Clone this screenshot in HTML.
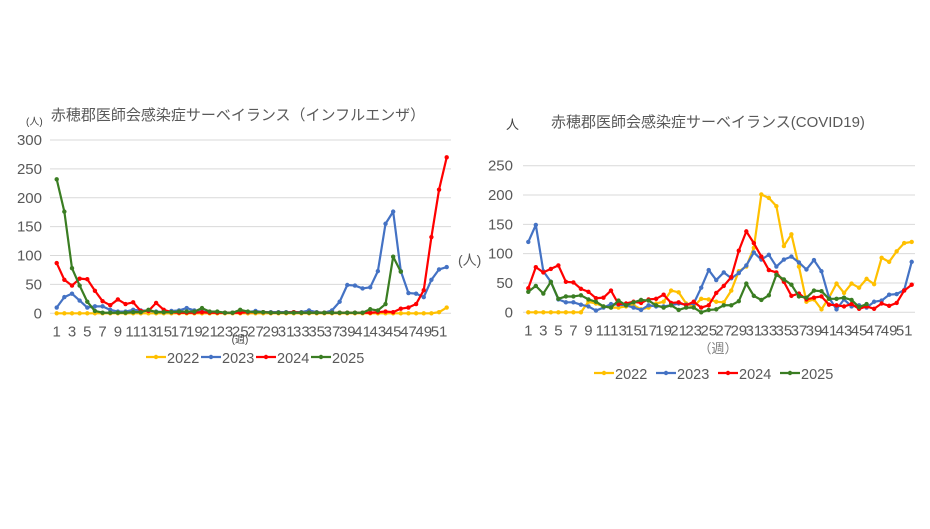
<!DOCTYPE html>
<html><head><meta charset="utf-8"><style>
body{margin:0;background:#fff;width:930px;height:524px;overflow:hidden;font-family:"Liberation Sans","Noto Sans CJK JP",sans-serif}
</style></head><body>
<svg id="c" width="930" height="524" font-family="Liberation Sans, Noto Sans CJK JP, sans-serif"></svg>
<script>
const weeks = Array.from({length:52},(_,i)=>i+1);
const fluYTicks = [0,50,100,150,200,250,300];
const covYTicks = [0,50,100,150,200,250];
const seriesNames = ['2022','2023','2024','2025'];
const seriesColors = ['#ffc000','#4472c4','#ff0000','#3a7d22'];
const N=null;
const flu2022 = [0,0,0,0,0,0,0,0,0,0,0,0,0,0,0,0,0,0,0,0,0,0,0,0,0,0,0,0,0,0,0,0,0,0,0,0,0,0,0,0,0,0,0,0,0,0,0,0,0,0,2,10];
const flu2023 = [10,28,34,22,10,12,12,6,3,3,6,5,4,3,2,4,5,9,5,3,2,2,1,1,2,2,4,2,2,2,2,2,2,5,2,1,5,20,49,48,43,45,73,155,176,73,35,34,28,58,76,80];
const flu2024 = [87,58,48,60,59,39,21,14,24,16,19,4,4,18,6,2,1,1,1,2,1,1,1,1,1,2,2,2,1,1,1,2,1,1,1,1,1,1,1,1,1,1,2,3,2,8,10,16,40,132,214,270];
const flu2025 = [232,176,78,48,20,4,1,1,1,1,2,2,6,2,2,2,3,3,3,9,3,3,1,1,6,3,2,2,1,1,1,1,1,1,1,1,1,1,1,1,1,7,5,16,98,72,N,N,N,N,N,N];
const cov2022 = [0,0,0,0,0,0,0,0,18,15,10,8,8,10,12,5,8,15,18,37,34,15,10,23,22,18,17,37,70,78,110,201,195,181,113,133,78,18,22,5,25,49,33,49,42,57,48,93,86,104,118,120];
const cov2023 = [120,149,70,52,22,17,17,13,10,3,8,14,13,12,8,4,12,10,10,12,15,13,15,42,72,55,68,58,67,80,102,90,98,78,90,95,85,73,89,70,25,5,22,10,12,8,18,20,30,31,38,86];
const cov2024 = [41,77,68,74,80,52,51,40,35,24,25,37,14,15,18,16,22,23,30,16,17,12,18,8,12,33,45,60,105,138,118,95,72,68,52,28,32,22,25,27,13,12,10,14,6,10,6,15,11,16,37,47];
const cov2025 = [35,45,32,52,23,27,27,29,22,18,10,8,20,12,17,21,20,12,8,12,4,8,8,0,4,5,12,12,19,49,28,21,29,64,56,47,27,25,37,36,23,23,25,21,9,14,N,N,N,N,N,N];

const svg=document.getElementById('c');const NS='http://www.w3.org/2000/svg';
function mk(t,a,p){const e=document.createElementNS(NS,t);for(const k in a)e.setAttribute(k,a[k]);(p||svg).appendChild(e);return e;}
function txt(s,a,p){const e=mk('text',a,p);e.textContent=s;return e;}

function chart(cfg){
  const g=mk('g',{});
  
  
  const xs=w=>cfg.x1+(w-1)*(cfg.x52-cfg.x1)/51;
  const ys=v=>cfg.y0-v*(cfg.y0-cfg.yTop)/cfg.yMax;
  cfg.yticks.forEach(t=>{
    const l=mk('line',{x1:cfg.gx0,x2:cfg.gx1,y1:ys(t),y2:ys(t),stroke:'#d9d9d9','stroke-width':1},g);
    
    
    const tl=txt(String(t),{x:cfg.lx,y:ys(t)+5,'text-anchor':'end','font-size':cfg.yfs,fill:'#595959'},g);
    
    
  });
  weeks.forEach(w=>{if(w%2===1){
    const tl=txt(String(w),{x:xs(w),y:cfg.y0+cfg.xlo,'text-anchor':'middle','font-size':cfg.xfs,fill:'#595959'},g);
    
    
  }});
  cfg.series.forEach((d,si)=>{
    let segs=[],cur=[];
    d.forEach((v,i)=>{if(v===null){if(cur.length)segs.push(cur);cur=[];}else cur.push([xs(weeks[i]),ys(v)]);});
    if(cur.length)segs.push(cur);
    segs.forEach(s=>{
      const p=mk('polyline',{points:s.map(q=>q.join(',')).join(' '),fill:'none',stroke:seriesColors[si],'stroke-width':2.2,'stroke-linejoin':'round'},g);
      
      
      s.forEach(q=>{
        const c=mk('circle',{cx:q[0],cy:q[1],r:2.2,fill:seriesColors[si]},g);
        
        
      });
    });
  });
  const t=txt(cfg.title,{x:cfg.tx,y:cfg.ty,'text-anchor':'middle','font-size':15,fill:'#595959'},g);
  
  
  let lx=cfg.legX;
  seriesNames.forEach((n,i)=>{
    const l=mk('line',{x1:lx,x2:lx+20,y1:cfg.legY-5,y2:cfg.legY-5,stroke:seriesColors[i],'stroke-width':2.2},g);
    
    
    const c=mk('circle',{cx:lx+10,cy:cfg.legY-5,r:2.2,fill:seriesColors[i]},g);
    
    
    const tt=txt(n,{x:lx+21,y:cfg.legY+1,'font-size':14.5,fill:'#595959'},g);
    
    
    lx+=cfg.legStep;
  });
  return g;
}
chart({name:'influenza-chart',x1:56.7,x52:446.7,y0:313.3,yTop:140,yMax:300,gx0:50,gx1:451,lx:42,yfs:15,xfs:15,xlo:23,
  yticks:fluYTicks,series:[flu2022,flu2023,flu2024,flu2025],title:'赤穂郡医師会感染症サーベイランス（インフルエンザ）',tx:238,ty:120,legX:146,legY:362,legStep:55});
chart({name:'covid-chart',x1:528.3,x52:911.7,y0:312.3,yTop:165.7,yMax:250,gx0:523,gx1:915,lx:513,yfs:15,xfs:15,xlo:23,
  yticks:covYTicks,series:[cov2022,cov2023,cov2024,cov2025],title:'赤穂郡医師会感染症サーベイランス(COVID19)',tx:708,ty:127,legX:594,legY:378,legStep:62});
const a=[
 ['(人)',{x:26,y:125,'font-size':10,fill:'#404040'},'y-unit-label-flu'],
 ['(週)',{x:240,y:343,'font-size':10,'text-anchor':'middle',fill:'#404040'},'x-unit-label-flu'],
 ['（週）',{x:718,y:353,'font-size':13,'text-anchor':'middle',fill:'#7f7f7f'},'x-unit-label-covid'],
 ['(人)',{x:458,y:265,'font-size':14,fill:'#595959'},'y-unit-label-covid'],
 ['人',{x:506,y:129,'font-size':13,fill:'#404040'},'y-unit-label-covid-top']];
a.forEach(([s,at,n])=>{const e=txt(s,at);
 
 });
</script>
</body></html>
